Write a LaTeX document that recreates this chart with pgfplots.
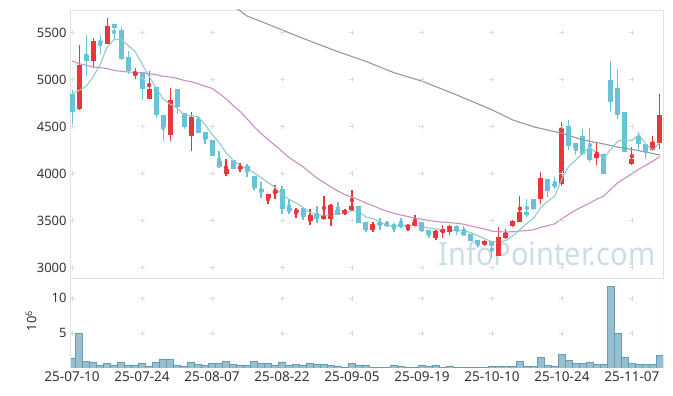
\documentclass[border=0pt]{standalone}
\usepackage{fontspec}
\setmainfont{Noto Sans}
\usepackage{graphicx}
\usepackage{pgfplots}
\usepackage{pgfplotstable}
\pgfplotsset{compat=1.18}

\definecolor{cup}{RGB}{234,54,58}
\definecolor{cdn}{RGB}{106,194,217}
\definecolor{mafive}{RGB}{140,206,196}
\definecolor{matwenty}{RGB}{203,142,198}
\definecolor{malong}{RGB}{152,152,152}
\definecolor{volf}{RGB}{150,192,208}
\definecolor{vold}{RGB}{104,155,180}
\definecolor{wm}{RGB}{202,221,231}
\definecolor{frame}{RGB}{226,226,226}
\definecolor{gridc}{RGB}{220,220,220}
\definecolor{txt}{RGB}{51,51,51}

\pgfplotstableread{
x o h l c
0 4843 4893 4529 4654
1 4689 5368 4679 5154
2 5268 5475 5039 5200
3 5200 5439 5129 5411
4 5407 5475 5279 5393
5 5382 5654 5382 5571
6 5593 5593 5421 5554
7 5529 5557 5207 5218
8 5239 5311 5057 5089
9 5050 5129 5011 5071
10 5079 5079 4781 4900
11 4793 5093 4793 4896
12 4918 4918 4593 4621
13 4629 4629 4350 4493
14 4407 4914 4350 4789
15 4896 4896 4636 4707
16 4646 4646 4475 4500
17 4397 4661 4243 4607
18 4586 4611 4436 4436
19 4447 4447 4314 4364
20 4361 4361 4189 4189
21 4140 4240 4063 4069
22 3992 4159 3975 4053
23 4141 4141 4046 4046
24 4046 4117 4017 4078
25 4078 4099 3964 4024
26 3971 3971 3822 3843
27 3833 3907 3740 3801
28 3737 3779 3680 3779
29 3790 3875 3730 3822
30 3833 3865 3574 3620
31 3630 3730 3574 3598
32 3588 3637 3531 3612
33 3630 3630 3510 3538
34 3495 3627 3456 3556
35 3573 3659 3474 3513
36 3513 3758 3513 3556
37 3517 3680 3446 3662
38 3616 3698 3559 3559
39 3573 3627 3563 3616
40 3609 3829 3609 3652
41 3652 3659 3474 3474
42 3481 3481 3375 3396
43 3397 3485 3379 3467
44 3475 3531 3404 3453
45 3468 3496 3439 3450
46 3457 3468 3375 3439
47 3468 3531 3425 3432
48 3432 3450 3386 3450
49 3439 3560 3439 3485
50 3482 3489 3375 3389
51 3396 3403 3318 3347
52 3315 3403 3290 3389
53 3379 3457 3318 3404
54 3379 3457 3343 3446
55 3446 3457 3350 3389
56 3375 3446 3347 3347
57 3354 3354 3283 3283
58 3290 3290 3212 3247
59 3247 3297 3226 3279
60 3282 3282 3105 3226
61 3129 3431 3129 3331
62 3317 3410 3303 3374
63 3443 3503 3430 3496
64 3491 3765 3491 3594
65 3594 3733 3537 3559
66 3733 3733 3609 3623
67 3729 4017 3679 3949
68 3942 3942 3757 3814
69 3885 3963 3839 3864
70 3892 4549 3874 4489
71 4510 4567 4247 4290
72 4326 4326 4194 4272
73 4404 4478 4194 4205
74 4276 4485 4123 4141
75 4169 4336 4088 4205
76 4205 4205 3999 3999
77 5000 5199 4656 4762
78 4915 5117 4585 4624
79 4652 4652 4230 4230
80 4102 4283 4088 4152
81 4400 4439 4247 4315
82 4318 4318 4159 4240
83 4247 4404 4240 4333
84 4329 4851 4265 4620
}\ohlc

\pgfplotstableread{
x ma5 ma20
0 4850 5200
1 4886 5171
2 4929 5154
3 5029 5136
4 5162 5129
5 5346 5118
6 5426 5100
7 5429 5089
8 5365 5082
9 5301 5079
10 5166 5075
11 5035 5064
12 4915 5054
13 4796 5036
14 4740 5029
15 4701 5014
16 4622 4993
17 4619 4979
18 4608 4957
19 4523 4931
20 4419 4908
21 4333 4854
22 4222 4797
23 4144 4728
24 4087 4663
25 4054 4585
26 4009 4500
27 3958 4429
28 3905 4363
29 3857 4302
30 3776 4238
31 3727 4173
32 3689 4122
33 3641 4074
34 3585 4013
35 3563 3953
36 3555 3906
37 3565 3859
38 3569 3815
39 3581 3777
40 3609 3751
41 3593 3721
42 3539 3688
43 3521 3659
44 3488 3628
45 3448 3599
46 3441 3579
47 3448 3560
48 3445 3544
49 3451 3526
50 3439 3515
51 3421 3502
52 3412 3491
53 3403 3484
54 3395 3479
55 3393 3472
56 3393 3462
57 3372 3443
58 3340 3427
59 3307 3410
60 3276 3389
61 3273 3382
62 3291 3381
63 3341 3382
64 3404 3389
65 3471 3395
66 3529 3404
67 3644 3430
68 3708 3448
69 3762 3467
70 3948 3522
71 4081 3569
72 4146 3613
73 4224 3653
74 4279 3688
75 4223 3729
76 4164 3762
77 4262 3836
78 4346 3905
79 4364 3952
80 4353 3999
81 4417 4048
82 4312 4091
83 4254 4133
84 4332 4184
}\ma

\pgfplotstableread{
x m
22 5830
23 5790
25 5678
28 5590
33 5440
38 5298
42 5195
46 5075
50 4985
55 4837
60 4680
63 4571
66 4498
70 4430
73 4360
76 4316
78 4283
81 4245
84 4200
}\malongtab

\pgfplotstableread{
x v
0 1.43
1 5.0
2 1.0
3 0.86
4 0.43
5 0.71
6 0.43
7 0.86
8 0.43
9 0.43
10 0.71
11 0.29
12 0.86
13 1.29
14 1.29
15 0.43
16 0.29
17 0.86
18 0.57
19 0.43
20 0.71
21 0.71
22 1.0
23 0.57
24 0.43
25 0.43
26 1.0
27 0.71
28 0.71
29 0.43
30 0.86
31 0.43
32 0.57
33 0.43
34 0.71
35 0.57
36 0.57
37 0.43
38 0.29
39 0.14
40 0.62
41 0.43
42 0.43
43 0.14
44 0.14
45 0.14
46 0.43
47 0.29
48 0.14
49 0.14
50 0.43
51 0.29
52 0.43
53 0.14
54 0.29
55 0.14
56 0.14
57 0.14
58 0.14
59 0.14
60 0.29
61 0.29
62 0.29
63 0.29
64 0.9
65 0.29
66 0.29
67 1.6
68 0.43
69 0.29
70 1.9
71 1.05
72 0.62
73 0.62
74 0.76
75 0.48
76 0.48
77 11.67
78 4.9
79 1.6
80 0.62
81 0.48
82 0.48
83 0.48
84 1.76
}\vol

\pgfplotsset{
  common/.style={
    scale only axis,
    width=593bp,
    xmin=-0.3, xmax=84.45,
    major tick length=0pt,
    tick style={draw=none},
    tick label style={font=\fontsize{13}{15}\selectfont, text=txt},
    xticklabel style={font=\fontsize{13.6}{15}\selectfont},
    /pgf/number format/assume math mode=true,
    /pgf/number format/1000 sep={},
  },
}

\begin{document}
\begin{tikzpicture}
\path[use as bounding box] (0,0) rectangle (673bp,396bp);
\node[anchor=base west, inner sep=0pt, text=wm] at (438bp,130bp)
  {\resizebox{217bp}{24.5bp}{InfoPointer.com}};

% price panel
\begin{axis}[common,
  at={(70bp,118bp)}, anchor=south west,
  height=268bp,
  ymin=2890, ymax=5742,
  xtick=\empty,
  ytick={3000,3500,4000,4500,5000,5500},
  axis line style={draw=frame},
  clip=true,
]
\pgfplotsinvokeforeach{0,10,20,30,40,50,60,70,80}{
  \addplot[only marks, mark=+, mark size=2.5bp, color=gridc, forget plot,
    mark options={line width=0.6bp}]
    coordinates {(#1,3000) (#1,3500) (#1,4000) (#1,4500) (#1,5000) (#1,5500)};
}
% wicks
\addplot[only marks, mark=none, color=cup, forget plot,
  error bars/.cd, y dir=both, y explicit, error mark=none,
  error bar style={line width=1.1bp, color=cup}]
  table[x=x, y expr={\thisrow{c}<\thisrow{o} ? nan : (\thisrow{h}+\thisrow{l})/2},
        y error expr={(\thisrow{h}-\thisrow{l})/2}] {\ohlc};
\addplot[only marks, mark=none, color=cdn, forget plot,
  error bars/.cd, y dir=both, y explicit, error mark=none,
  error bar style={line width=1.1bp, color=cdn}]
  table[x=x, y expr={\thisrow{c}<\thisrow{o} ? (\thisrow{h}+\thisrow{l})/2 : nan},
        y error expr={(\thisrow{h}-\thisrow{l})/2}] {\ohlc};
% bodies
\addplot[only marks, mark=none, color=cup, forget plot,
  error bars/.cd, y dir=both, y explicit, error mark=none,
  error bar style={line width=5bp, color=cup}]
  table[x=x, y expr={\thisrow{c}<\thisrow{o} ? nan : (\thisrow{o}+\thisrow{c})/2},
        y error expr={max(abs(\thisrow{c}-\thisrow{o})/2,6)}] {\ohlc};
\addplot[only marks, mark=none, color=cdn, forget plot,
  error bars/.cd, y dir=both, y explicit, error mark=none,
  error bar style={line width=5bp, color=cdn}]
  table[x=x, y expr={\thisrow{c}<\thisrow{o} ? (\thisrow{o}+\thisrow{c})/2 : nan},
        y error expr={max(abs(\thisrow{c}-\thisrow{o})/2,6)}] {\ohlc};
% moving averages
\addplot[malong, line width=1.1bp, mark=none] table[x=x, y=m] {\malongtab};
\addplot[matwenty, line width=1.1bp, mark=none] table[x=x, y=ma20] {\ma};
\addplot[mafive, line width=1.1bp, mark=none] table[x=x, y=ma5] {\ma};
\end{axis}

% volume panel
\begin{axis}[common,
  at={(70bp,28bp)}, anchor=south west,
  height=90bp,
  ymin=0, ymax=12.86,
  xtick={0,10,20,30,40,50,60,70,80},
  xticklabels={25-07-10,25-07-24,25-08-07,25-08-22,25-09-05,25-09-19,25-10-10,25-10-24,25-11-07},
  ytick={5,10},
  axis line style={draw=none},
  clip=true,
]
\pgfplotsinvokeforeach{0,10,20,30,40,50,60,70,80}{
  \addplot[only marks, mark=+, mark size=2.5bp, color=gridc, forget plot,
    mark options={line width=0.6bp}]
    coordinates {(#1,5) (#1,10)};
}
\addplot[ybar, bar width=7bp, fill=volf, draw=vold, line width=0.5bp]
  table[x=x, y=v] {\vol};
\draw[frame, line width=0.8bp] (rel axis cs:0,0) -- (rel axis cs:0,1)
  -- (rel axis cs:1,1) -- (rel axis cs:1,0);
\end{axis}

\node[rotate=90, text=txt, font=\fontsize{13}{15}\selectfont] at (31bp,75bp) {10\textsuperscript{6}};
\end{tikzpicture}
\end{document}
